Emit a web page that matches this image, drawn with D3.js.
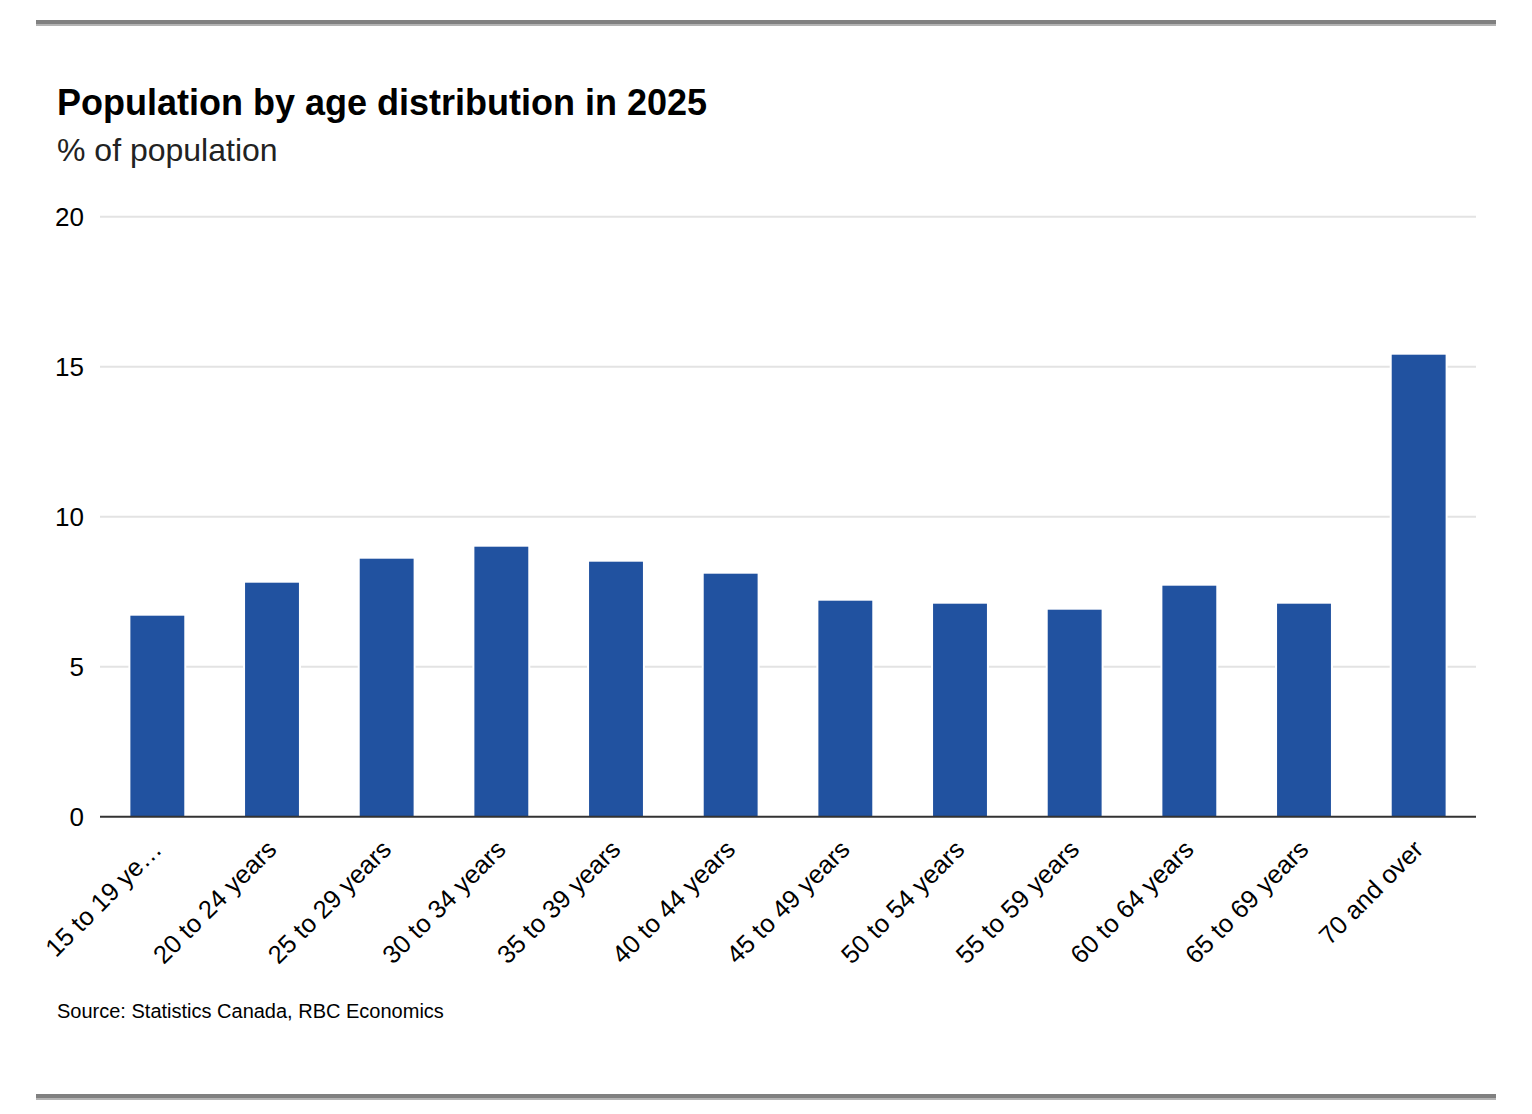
<!DOCTYPE html>
<html>
<head>
<meta charset="utf-8">
<script src="https://cdn.jsdelivr.net/npm/d3@7/dist/d3.min.js"></script>
<style>
  html, body { margin: 0; padding: 0; background: #fff; }
  svg { display: block; font-family: "Liberation Sans", Arial, Helvetica, sans-serif; }
</style>
</head>
<body>
<svg id="chart" width="1532" height="1114"></svg>
<script>
const categories = ["15 to 19 ye\u2026", "20 to 24 years", "25 to 29 years", "30 to 34 years",
  "35 to 39 years", "40 to 44 years", "45 to 49 years", "50 to 54 years",
  "55 to 59 years", "60 to 64 years", "65 to 69 years", "70 and over"];
const values = [6.7, 7.8, 8.6, 9.0, 8.5, 8.1, 7.2, 7.1, 6.9, 7.7, 7.1, 15.4];
const yTicks = [0, 5, 10, 15, 20];
const titleText = "Population by age distribution in 2025";
const subtitleText = "% of population";
const sourceText = "Source: Statistics Canada, RBC Economics";

const svg = d3.select("#chart");
const plot = { left: 100, right: 1476, top: 216.7, bottom: 816.7 };

// decorative rules
function rule(y) {
  svg.append("rect").attr("x", 36).attr("y", y).attr("width", 1460).attr("height", 4).attr("fill", "#808080");
  svg.append("rect").attr("x", 36).attr("y", y + 4).attr("width", 1460).attr("height", 2).attr("fill", "#b3b3b3");
}
rule(20);
rule(1094);

svg.append("text").attr("x", 57).attr("y", 115).attr("font-size", 36).attr("font-weight", "bold")
  .attr("fill", "#000").text(titleText);
svg.append("text").attr("x", 57).attr("y", 161).attr("font-size", 32)
  .attr("fill", "#222").text(subtitleText);

const x = d3.scaleBand().domain(categories).range([plot.left, plot.right])
  .paddingInner(0.53).paddingOuter(0.265);
const y = d3.scaleLinear().domain([0, 20]).range([plot.bottom, plot.top]);

// gridlines
svg.append("g").selectAll("line").data(yTicks.filter(d => d > 0)).join("line")
  .attr("x1", plot.left).attr("x2", plot.right)
  .attr("y1", d => y(d)).attr("y2", d => y(d))
  .attr("stroke", "#e3e3e3").attr("stroke-width", 2);

// y labels
svg.append("g").selectAll("text").data(yTicks).join("text")
  .attr("x", 84).attr("y", d => y(d)).attr("dy", "0.36em")
  .attr("text-anchor", "end").attr("font-size", 26).attr("fill", "#000")
  .text(d => d);

// halo behind bars (gaps in gridlines)
svg.append("g").selectAll("rect").data(values).join("rect")
  .attr("x", (d, i) => x(categories[i]) - 2).attr("width", x.bandwidth() + 4)
  .attr("y", d => y(d)).attr("height", d => y(0) - y(d))
  .attr("fill", "#fff");

// bars
svg.append("g").selectAll("rect").data(values).join("rect")
  .attr("x", (d, i) => x(categories[i])).attr("width", x.bandwidth())
  .attr("y", d => y(d)).attr("height", d => y(0) - y(d))
  .attr("fill", "#2152a0");

// baseline
svg.append("line").attr("x1", plot.left).attr("x2", plot.right)
  .attr("y1", y(0)).attr("y2", y(0)).attr("stroke", "#333").attr("stroke-width", 2);

// x labels
svg.append("g").selectAll("text").data(categories).join("text")
  .attr("transform", d => `translate(${x(d) + x.bandwidth() / 2 + 6},851) rotate(-45)`)
  .attr("text-anchor", "end").attr("font-size", 25.5).attr("fill", "#000")
  .text(d => d);

svg.append("text").attr("x", 57).attr("y", 1018).attr("font-size", 20)
  .attr("fill", "#000").text(sourceText);
</script>
</body>
</html>
